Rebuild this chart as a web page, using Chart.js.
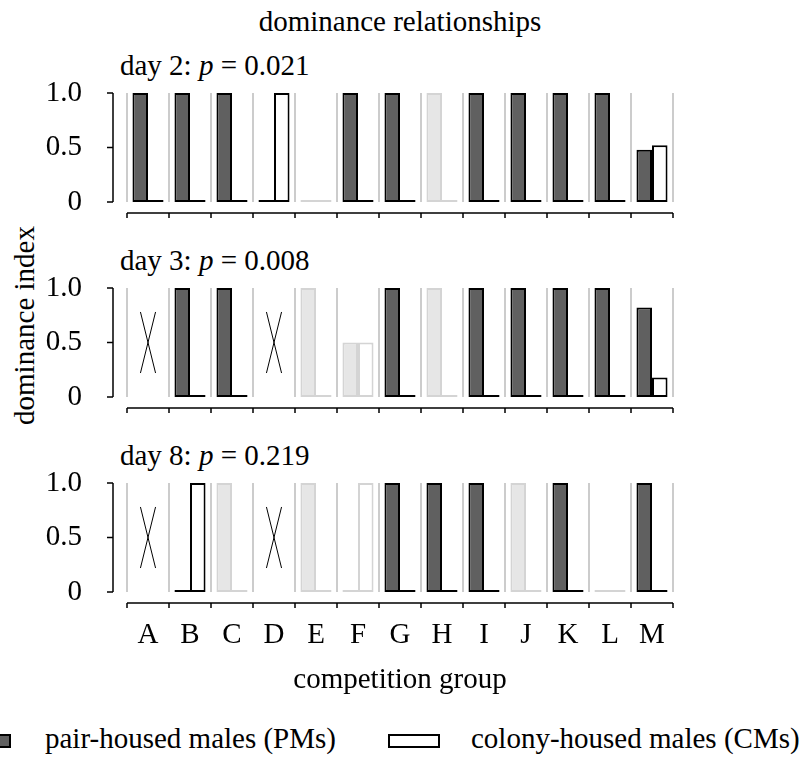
<!DOCTYPE html>
<html>
<head>
<meta charset="utf-8">
<script src="https://cdn.jsdelivr.net/npm/chart.js@4.4.1/dist/chart.umd.min.js"></script>
<style>
  body { margin: 0; background: #fff; }
  #page { position: relative; width: 807px; height: 762px; overflow: hidden; background: #fff;
          font-family: "Liberation Serif", "Times New Roman", serif; color: #000; }
  .txt { position: absolute; font-size: 29px; line-height: 1; white-space: nowrap; }
  canvas { position: absolute; left: 0; }
  .swatch { position: absolute; box-sizing: border-box; border: 2px solid #000; }
</style>
</head>
<body>
<div id="page">
  <div class="txt" style="left:0; width:800px; text-align:center; top:7px;">dominance relationships</div>
  <div class="txt" style="left:120px; top:51px;">day 2: <i>p</i> = 0.021</div>
  <div class="txt" style="left:120px; top:246px;">day 3: <i>p</i> = 0.008</div>
  <div class="txt" style="left:120px; top:441px;">day 8: <i>p</i> = 0.219</div>
  <div class="txt" style="left:-126px; top:311px; width:300px; text-align:center; transform:rotate(-90deg);">dominance index</div>

  <canvas id="day2" width="807" height="240" style="top:70px"></canvas>
  <canvas id="day3" width="807" height="240" style="top:265px"></canvas>
  <canvas id="day8" width="807" height="240" style="top:460px"></canvas>

  <div class="swatch" style="left:-41px; top:734px; width:52px; height:14px; background:#606060;"></div>
  <div class="txt" style="left:45px; top:724px;">pair-housed males (PMs)</div>
  <div class="swatch" style="left:388px; top:734px; width:52px; height:14px; background:#fff;"></div>
  <div class="txt" style="left:471px; top:724px;">colony-housed males (CMs)</div>
</div>

<script>
// competition groups and dominance index per day (null = group not tested)
const groups = ['A', 'B', 'C', 'D', 'E', 'F', 'G', 'H', 'I', 'J', 'K', 'L', 'M'];

const day2PM = [1, 1, 1, 0, 0, 1, 1, 1, 1, 1, 1, 1, 0.48];
const day2CM = [0, 0, 0, 1, 0, 0, 0, 0, 0, 0, 0, 0, 0.52];
const day2Faded = [0, 0, 0, 0, 1, 0, 0, 1, 0, 0, 0, 0, 0];

const day3PM = [null, 1, 1, null, 1, 0.5, 1, 1, 1, 1, 1, 1, 0.82];
const day3CM = [null, 0, 0, null, 0, 0.5, 0, 0, 0, 0, 0, 0, 0.18];
const day3Faded = [0, 0, 0, 0, 1, 1, 0, 1, 0, 0, 0, 0, 0];

const day8PM = [null, 0, 1, null, 1, 0, 1, 1, 1, 1, 1, 0, 1];
const day8CM = [null, 1, 0, null, 0, 1, 0, 0, 0, 0, 0, 0, 0];
const day8Faded = [0, 0, 1, 0, 1, 1, 0, 0, 0, 1, 0, 1, 0];

const yTicks = [0, 0.5, 1];
const yTickLabels = ['0', '0.5', '1.0'];

Chart.defaults.font.family = '"Liberation Serif", "Times New Roman", serif';
Chart.defaults.font.size = 29;
Chart.defaults.color = '#000';

// detached y bracket, x baseline with ticks, and crosses for missing groups
const panelAxes = {
    id: 'panelAxes',
    afterDatasetsDraw(chart) {
        const { ctx, scales: { x, y } } = chart;
        ctx.save();
        ctx.strokeStyle = '#000';
        ctx.lineWidth = 1.5;

        const ax = y.right - 14;
        const top = y.getPixelForValue(1);
        const bot = y.getPixelForValue(0);
        ctx.beginPath();
        ctx.moveTo(ax, bot);
        ctx.lineTo(ax, top);
        yTicks.forEach(v => {
            const py = y.getPixelForValue(v);
            ctx.moveTo(ax - 6, py);
            ctx.lineTo(ax, py);
        });
        ctx.stroke();

        const ay = bot + 11;
        ctx.beginPath();
        ctx.moveTo(x.getPixelForValue(-0.5), ay);
        ctx.lineTo(x.getPixelForValue(groups.length - 0.5), ay);
        for (let i = 0; i <= groups.length; i++) {
            const px = x.getPixelForValue(i - 0.5);
            ctx.moveTo(px, ay);
            ctx.lineTo(px, ay + 5);
        }
        ctx.stroke();

        ctx.lineWidth = 1;
        ctx.beginPath();
        chart.data.datasets[0].data.forEach((v, i) => {
            if (v !== null) return;
            ctx.moveTo(x.getPixelForValue(i - 0.18), y.getPixelForValue(0.78));
            ctx.lineTo(x.getPixelForValue(i + 0.18), y.getPixelForValue(0.22));
            ctx.moveTo(x.getPixelForValue(i + 0.18), y.getPixelForValue(0.78));
            ctx.lineTo(x.getPixelForValue(i - 0.18), y.getPixelForValue(0.22));
        });
        ctx.stroke();
        ctx.restore();
    }
};

function makePanel(id, pm, cm, faded, bottom) {
    new Chart(document.getElementById(id), {
        type: 'bar',
        data: {
            labels: groups,
            datasets: [{
                label: 'pair-housed males (PMs)',
                data: pm,
                backgroundColor: faded.map(f => f ? '#e6e6e6' : '#606060'),
                borderColor: faded.map(f => f ? '#d4d4d4' : '#000')
            }, {
                label: 'colony-housed males (CMs)',
                data: cm,
                backgroundColor: '#fff',
                borderColor: faded.map(f => f ? '#d4d4d4' : '#000')
            }]
        },
        options: {
            responsive: false,
            animation: false,
            layout: { padding: { top: 23, bottom: 0, left: 0, right: 134 } },
            datasets: {
                bar: {
                    categoryPercentage: 0.74,
                    barPercentage: 1,
                    borderWidth: 2,
                    borderSkipped: false,
                    minBarLength: 2,
                    clip: false
                }
            },
            plugins: {
                legend: { display: false },
                tooltip: { enabled: false }
            },
            scales: {
                x: {
                    offset: true,
                    afterFit: s => { s.height = 108; },
                    border: { display: false },
                    grid: { offset: true, color: '#cccccc', lineWidth: 2, drawTicks: false },
                    ticks: { display: bottom, padding: 26, maxRotation: 0 },
                    title: {
                        display: bottom,
                        text: 'competition group',
                        padding: { top: 0, bottom: 2 }
                    }
                },
                y: {
                    min: 0,
                    max: 1,
                    afterFit: s => {
                        s.width = 127;
                        s.paddingTop = 0;
                        s.paddingBottom = 0;
                    },
                    afterBuildTicks: s => { s.ticks = yTicks.map(v => ({ value: v })); },
                    border: { display: false },
                    grid: { display: false },
                    ticks: {
                        padding: 37,
                        callback: (v) => yTickLabels[yTicks.indexOf(v)]
                    }
                }
            }
        },
        plugins: [panelAxes]
    });
}

makePanel('day2', day2PM, day2CM, day2Faded, false);
makePanel('day3', day3PM, day3CM, day3Faded, false);
makePanel('day8', day8PM, day8CM, day8Faded, true);
</script>
</body>
</html>
